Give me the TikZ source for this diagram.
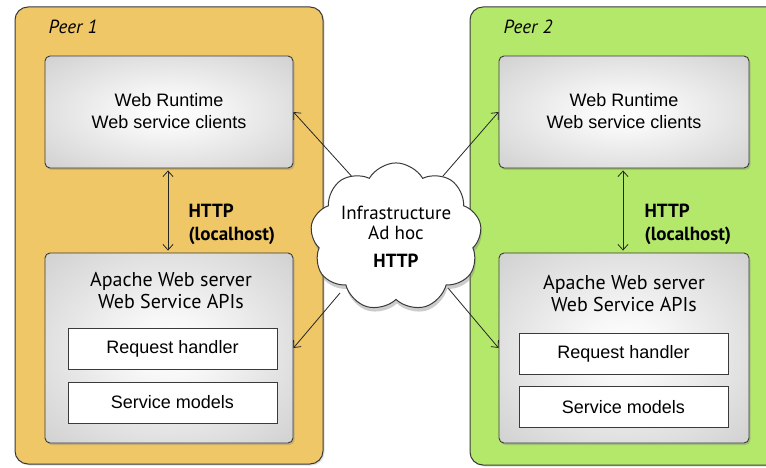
\documentclass[tikz,border=0pt]{standalone}
\usepackage{fontspec}
\setmainfont{Liberation Sans}
\newfontfamily\gillish{PT Sans}
\usetikzlibrary{arrows.meta,shapes.symbols,shadows}

\definecolor{peerone}{HTML}{EFC767}
\definecolor{peertwo}{HTML}{B4E86A}
\definecolor{edgegray}{HTML}{3A3A3A}

% soft glow for the layer boxes: white centre, light gray rim
\pgfdeclareradialshading{layerglow}{\pgfpoint{0bp}{0bp}}{%
  color(0bp)=(white); color(8bp)=(white!97!black);
  color(50bp)=(black!26); color(71bp)=(black!38)}

\tikzset{
  peerbox/.style={draw=edgegray, line width=1pt, rounded corners=13pt,
    drop shadow={opacity=0.25, shadow xshift=1.5pt, shadow yshift=-1.5pt}},
  layerbox/.style={draw=edgegray, line width=0.9pt, rounded corners=5pt,
    shading=layerglow,
    drop shadow={opacity=0.35, shadow xshift=1.5pt, shadow yshift=-2pt}},
  partbox/.style={draw=edgegray, fill=white, line width=0.8pt,
    minimum width=209, minimum height=41, inner sep=0pt,
    font=\fontsize{18}{20}\selectfont},
  boxtext/.style={align=center, font=\fontsize{18}{22}\selectfont},
  humtext/.style={align=center, font=\gillish\fontsize{20}{22}\selectfont},
  peerlabel/.style={anchor=west, font=\gillish\itshape\fontsize{19}{20}\selectfont},
  httplabel/.style={anchor=west, align=left, font=\gillish\bfseries\fontsize{19}{23}\selectfont},
  link/.style={-{Straight Barb[length=5.5pt,width=10pt,line width=0.8pt]}, line width=0.8pt, draw=black!85},
  duallink/.style={{Straight Barb[length=5.5pt,width=10pt,line width=0.8pt]}-{Straight Barb[length=5.5pt,width=10pt,line width=0.8pt]},
    line width=0.8pt, draw=black!85, shorten <=2pt, shorten >=2pt},
  net/.style={cloud, cloud puffs=9, cloud puff arc=120, aspect=1.25,
    draw=edgegray, line width=1pt, fill=white, inner sep=0pt,
    minimum width=162, minimum height=130,
    drop shadow={opacity=0.4, shadow xshift=1pt, shadow yshift=-4pt},
    align=center, font=\gillish\fontsize{19}{20}\selectfont}
}

\begin{document}
\begin{tikzpicture}[x=1pt, y=-1pt]
  \useasboundingbox (0,0) rectangle (766,468);
  \clip (0,0) rectangle (766,468);
  \fill[white] (0,0) rectangle (766,468);

  % the two peers
  \node[peerbox, fill=peerone, minimum width=308, minimum height=457] (peer1) at (169,235.5) {};
  \node[peerbox, fill=peertwo, minimum width=330, minimum height=458] (peer2) at (635,236) {};
  \node[peerlabel] (p1label) at (45,27) {Peer 1};
  \node[peerlabel] (p2label) at (500,27) {Peer 2};

  % peer 1 layers
  \node[layerbox, minimum width=248, minimum height=112] (rt1) at (169,112) {};
  \node[boxtext] (rt1text) at (169,111) {Web Runtime\\Web service clients};
  \node[layerbox, minimum width=248, minimum height=190] (ap1) at (169,348) {};
  \node[humtext] (ap1text) at (171,291) {Apache Web server\\Web Service APIs};
  \node[partbox] (rh1) at (172.5,348.5) {Request handler};
  \node[partbox] (sm1) at (172.5,402.5) {Service models};

  % peer 2 layers
  \node[layerbox, minimum width=250, minimum height=112] (rt2) at (624,112) {};
  \node[boxtext] (rt2text) at (624,111) {Web Runtime\\Web service clients};
  \node[layerbox, minimum width=250, minimum height=190] (ap2) at (624,348) {};
  \node[humtext] (ap2text) at (624,294) {Apache Web server\\Web Service APIs};
  \node[partbox] (rh2) at (623.5,353.5) {Request handler};
  \node[partbox] (sm2) at (623.5,407) {Service models};

  % local HTTP inside each peer
  \draw[duallink] (rt1.south -| 168,0) -- (ap1.north -| 168,0);
  \draw[duallink] (rt2.south -| 623,0) -- (ap2.north -| 623,0);
  \node[httplabel] (http1) at (185,224) {HTTP\\(localhost)};
  \node[httplabel] (http2) at (641,224) {HTTP\\(localhost)};

  % network between the peers
  \coordinate (c1) at (355,180);
  \coordinate (c2) at (443,176);
  \coordinate (c3) at (340,293);
  \coordinate (c4) at (448,288);
  \draw[link] (c1) -- (rt1.east);
  \draw[link] (c2) -- (rt2.west);
  \draw[link] (c3) -- (ap1.east);
  \draw[link] (c4) -- (ap2.west);
  \node[net] (cloud) at (396,237) {Infrastructure\\Ad hoc\\[8pt]\bfseries HTTP};
\end{tikzpicture}
\end{document}
